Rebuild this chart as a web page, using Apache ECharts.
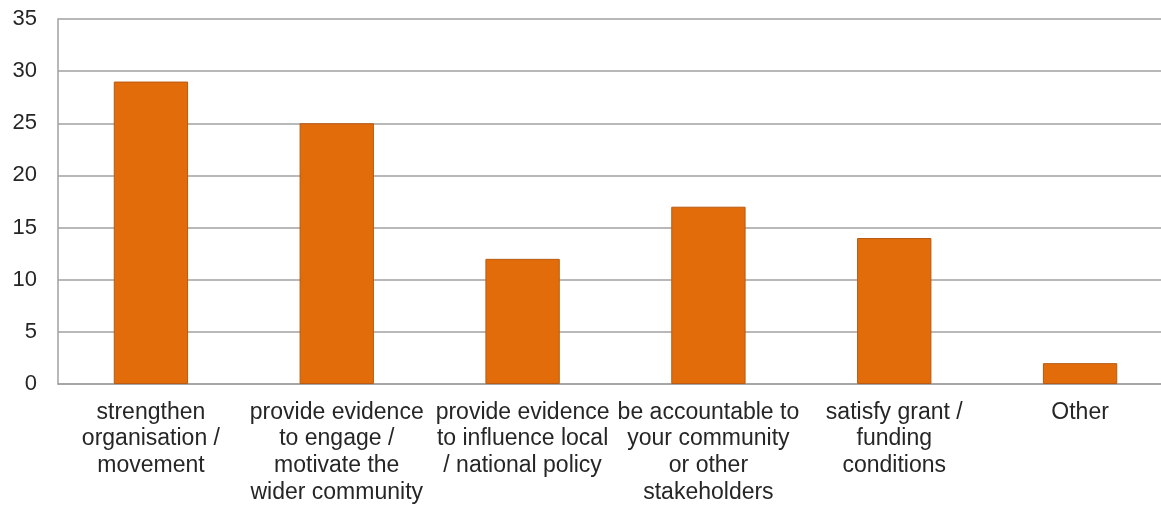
<!DOCTYPE html>
<html><head><meta charset="utf-8">
<script src="https://cdn.jsdelivr.net/npm/echarts@6/dist/echarts.min.js"></script>
<style>html,body{margin:0;padding:0;background:#fff;overflow:hidden}#c{width:1173px;height:507px}</style>
</head><body><div id="c"></div>
<script>
const categories = [
  "strengthen\norganisation /\nmovement",
  "provide evidence\nto engage /\nmotivate the\nwider community",
  "provide evidence\nto influence local\n/ national policy",
  "be accountable to\nyour community\nor other\nstakeholders",
  "satisfy grant /\nfunding\nconditions",
  "Other"
];
const values = [29, 25, 12, 17, 14, 2];
const yMin = 0, yMax = 35, yStep = 5;

const chart = echarts.init(document.getElementById('c'));
chart.setOption({
  animation: false,
  grid: { left: 58, top: 19, right: 0, height: 365, containLabel: false },
  xAxis: {
    type: 'category', data: categories,
    axisLine: { lineStyle: { color: '#a0a0a0', width: 1.5 } },
    axisTick: { show: false },
    axisLabel: { interval: 0, margin: 15, color: '#262626', fontFamily: 'Liberation Sans, Arial, sans-serif', fontSize: 23, lineHeight: 26.7 }
  },
  yAxis: {
    type: 'value', min: yMin, max: yMax, interval: yStep,
    axisLine: { show: true, lineStyle: { color: '#a0a0a0', width: 1.5 } },
    axisTick: { show: false },
    splitLine: { lineStyle: { color: '#a0a0a0', width: 1.5 } },
    axisLabel: { margin: 21, color: '#262626', fontFamily: 'Liberation Sans, Arial, sans-serif', fontSize: 22 }
  },
  series: [{
    type: 'bar', data: values, barWidth: '40%',
    itemStyle: { color: '#E36C0A', borderColor: '#B85A12', borderWidth: 1 }
  }]
});
</script></body></html>
